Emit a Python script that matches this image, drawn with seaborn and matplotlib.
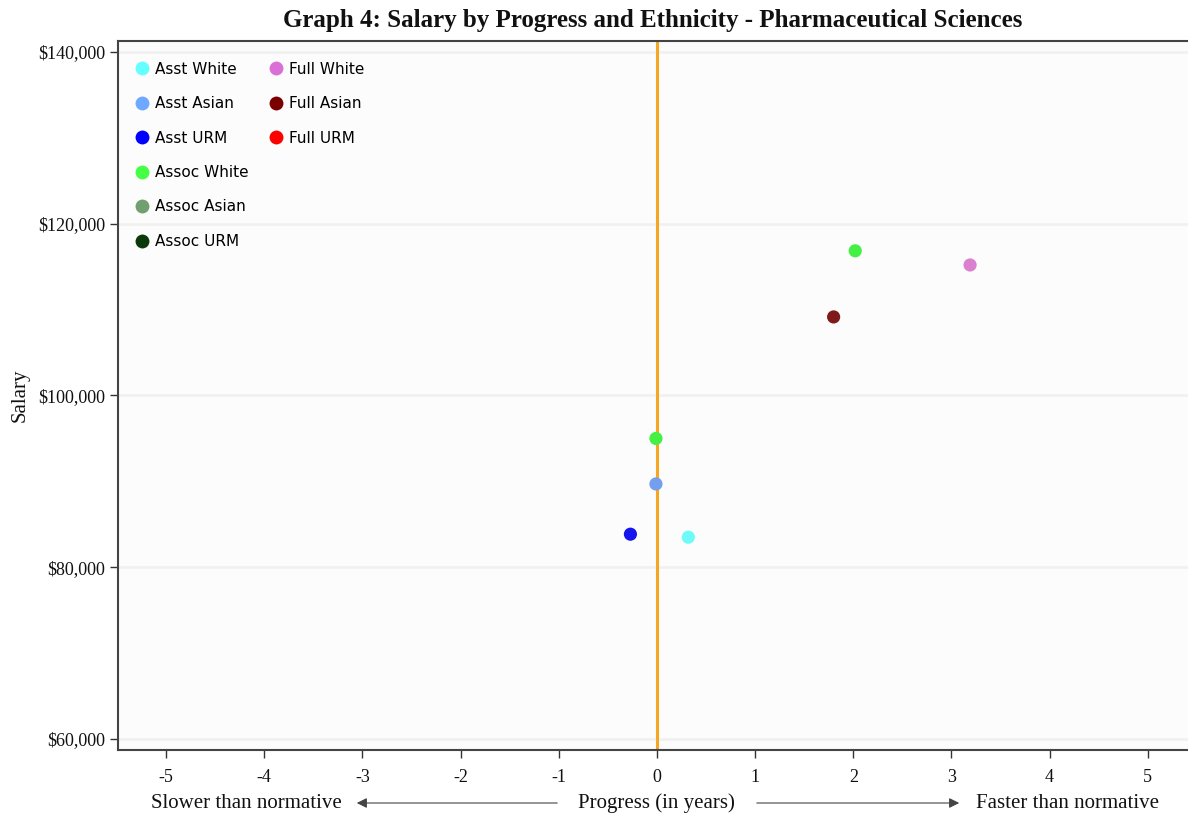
import matplotlib
matplotlib.use("Agg")
import matplotlib.pyplot as plt
from matplotlib.lines import Line2D
import seaborn as sns
import pandas as pd

# ---- data ----
groups = ["Asst White", "Asst Asian", "Asst URM", "Assoc White", "Assoc White", "Full Asian", "Full White"]
progress = [0.32, -0.01, -0.27, -0.01, 2.02, 1.80, 3.19]
salary = [83500, 89700, 83850, 95000, 116850, 109150, 115200]

legend_order = ["Asst White", "Asst Asian", "Asst URM", "Assoc White", "Assoc Asian", "Assoc URM",
                "Full White", "Full Asian", "Full URM"]
colors = ["#66FFFF", "#6FA8FF", "#0000FF", "#44FF44", "#70A070", "#0A3A0A",
          "#DA70D6", "#7A0000", "#FF0000"]
plot_colors = {"Asst White": "#6FFAFA", "Asst Asian": "#739FEE", "Asst URM": "#1515EE",
               "Assoc White": "#44F044", "Full Asian": "#7E1A1A", "Full White": "#DA80CE"}

x_ticks = [-5, -4, -3, -2, -1, 0, 1, 2, 3, 4, 5]
y_ticks = [60000, 80000, 100000, 120000, 140000]
y_tick_labels = ["$60,000", "$80,000", "$100,000", "$120,000", "$140,000"]

title = "Graph 4: Salary by Progress and Ethnicity - Pharmaceutical Sciences"

df = pd.DataFrame({"group": groups, "progress": progress, "salary": salary})

sns.set_theme(style="white")
serif = ["Liberation Serif", "DejaVu Serif"]

fig = plt.figure(figsize=(11.88, 8.18), dpi=100)
ax = fig.add_axes([118 / 1188, 1 - 750 / 818, 1 - 118 / 1188, (750 - 41) / 818])
ax.set_facecolor("#FCFCFC")

for yt in y_ticks:
    ax.axhline(yt, color="#F0F0F0", lw=1.8, zorder=0)
ax.axvline(0, color="#F5A623", lw=2.2, zorder=1)

sns.scatterplot(data=df, x="progress", y="salary", hue="group", palette=plot_colors,
                s=90, edgecolor="none", legend=False, ax=ax, zorder=3)

ax.set_xlim(-5.49, 5.41)
ax.set_ylim(58720, 141280)
ax.set_xticks(x_ticks)
ax.set_xticklabels([str(t) for t in x_ticks], fontfamily=serif, fontsize=13, color="#111111")
ax.set_yticks(y_ticks)
ax.set_yticklabels(y_tick_labels, fontfamily=serif, fontsize=13, color="#111111")
ax.tick_params(axis="x", length=6, width=1, color="#333333", pad=8, direction="out", bottom=True)
ax.tick_params(axis="y", length=6, width=1, color="#333333", pad=3, direction="out", left=True)
for s in ["left", "bottom", "top"]:
    ax.spines[s].set_color("#444444")
    ax.spines[s].set_linewidth(1.5)
ax.spines["right"].set_visible(False)
ax.set_xlabel("")
ax.set_ylabel("Salary", fontfamily=serif, fontsize=15, color="#111111")
ax.yaxis.set_label_coords(-0.083, 0.5)
ax.set_title(title, fontfamily=serif, fontsize=18, fontweight="bold", pad=10, color="#111111")

# legend (two columns: 6 + 3)
handles = []
labels = []
for lab, col in zip(legend_order, colors):
    handles.append(Line2D([0], [0], marker="o", color="none", markerfacecolor=col,
                          markeredgecolor="none", markersize=10))
    labels.append(lab)
for _ in range(3):
    handles.append(Line2D([0], [0], color="none"))
    labels.append("")
leg = ax.legend(handles, labels, ncol=2, loc="upper left", frameon=False,
                bbox_to_anchor=(-0.002, 0.99), labelspacing=1.27,
                handletextpad=0.05, columnspacing=1.0, handlelength=1.6,
                prop={"family": ["DejaVu Sans"], "size": 11})
for t in leg.get_texts():
    t.set_color("#000000")

# bottom annotation
fy = 1 - 803 / 818
fig.text(246 / 1188, fy, "Slower than normative", ha="center", va="center",
         fontfamily=serif, fontsize=15, color="#111111")
fig.text(656 / 1188, fy, "Progress (in years)", ha="center", va="center",
         fontfamily=serif, fontsize=15, color="#111111")
fig.text(1068 / 1188, fy, "Faster than normative", ha="center", va="center",
         fontfamily=serif, fontsize=15, color="#111111")
fig.add_artist(matplotlib.patches.FancyArrowPatch((560 / 1188, fy), (354 / 1188, fy),
               transform=fig.transFigure, arrowstyle="-|>,head_length=4,head_width=2",
               color="#444444", lw=0.8, mutation_scale=1.5))
fig.add_artist(matplotlib.patches.FancyArrowPatch((754 / 1188, fy), (962 / 1188, fy),
               transform=fig.transFigure, arrowstyle="-|>,head_length=4,head_width=2",
               color="#444444", lw=0.8, mutation_scale=1.5))

fig.savefig("out.png", dpi=100, facecolor="white")
